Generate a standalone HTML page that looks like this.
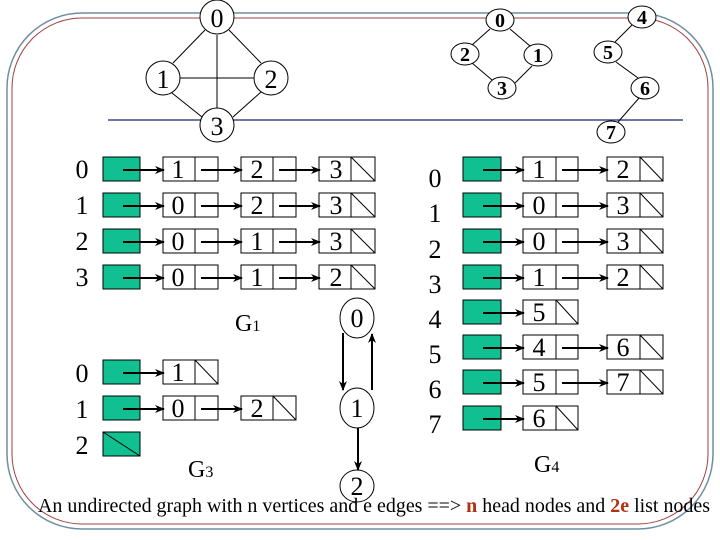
<!DOCTYPE html>
<html><head><meta charset="utf-8"><style>
html,body{margin:0;padding:0;background:#fff}
svg{display:block}
text{font-family:"Liberation Serif",serif}
</style></head><body>
<svg width="720" height="540" viewBox="0 0 720 540" xmlns="http://www.w3.org/2000/svg">
<defs>
<marker id="ah" markerWidth="10" markerHeight="8" refX="9" refY="4" orient="auto" markerUnits="userSpaceOnUse">
<path d="M0,0 L10,4 L0,8 L3,4 Z" fill="#000"/>
</marker>
</defs>
<rect x="7" y="13" width="706" height="516" rx="75" fill="none" stroke="#6f8fa0" stroke-width="1.5"/>
<rect x="12" y="18" width="696" height="506" rx="70" fill="none" stroke="#a04040" stroke-width="1"/>
<line x1="108" y1="120" x2="683" y2="120" stroke="#1a2470" stroke-width="1.2"/>

<!-- G1 graph -->
<g stroke="#000" stroke-width="1" fill="none">
<line x1="217" y1="35" x2="217" y2="108"/>
<line x1="180" y1="78" x2="254" y2="78"/>
<line x1="205" y1="30" x2="173" y2="63"/>
<line x1="229" y1="30" x2="261" y2="63"/>
<line x1="172" y1="93" x2="202" y2="117"/>
<line x1="261" y1="92" x2="233" y2="117"/>
</g>
<g fill="#fff" stroke="#000" stroke-width="1">
<circle cx="217" cy="17" r="17"/><circle cx="163" cy="78" r="17"/><circle cx="271" cy="78" r="17"/><circle cx="217" cy="125" r="17"/>
</g>
<g font-size="26" text-anchor="middle">
<text x="217" y="27">0</text><text x="163" y="88">1</text><text x="271" y="88">2</text><text x="217" y="135">3</text>
</g>

<!-- G2/G4 graph -->
<g stroke="#000" stroke-width="1" fill="none">
<line x1="490" y1="29" x2="472" y2="45"/><line x1="510" y1="29" x2="530" y2="46"/>
<line x1="472" y1="63" x2="492" y2="80"/><line x1="532" y1="66" x2="515" y2="83"/>
<line x1="632" y1="25" x2="615" y2="42"/><line x1="616" y1="62" x2="638" y2="78"/>
<line x1="640" y1="97" x2="618" y2="122"/>
</g>
<g fill="#fff" stroke="#000" stroke-width="1">
<ellipse cx="500" cy="20" rx="14" ry="11"/><ellipse cx="465" cy="54" rx="14" ry="11"/>
<ellipse cx="538" cy="55" rx="14" ry="11"/><ellipse cx="502" cy="88" rx="14" ry="11"/>
<ellipse cx="642" cy="17" rx="14" ry="11"/><ellipse cx="608" cy="52" rx="14" ry="11"/>
<ellipse cx="645" cy="88" rx="14" ry="11"/><ellipse cx="611" cy="132" rx="14" ry="11"/>
</g>
<g font-size="20" font-weight="bold" text-anchor="middle">
<text x="500" y="27">0</text><text x="465" y="61">2</text><text x="538" y="62">1</text><text x="502" y="95">3</text>
<text x="642" y="24">4</text><text x="608" y="59">5</text><text x="645" y="95">6</text><text x="611" y="139">7</text>
</g>

<!-- G1 lists -->
<g font-size="26" text-anchor="middle">
<text x="82" y="178">0</text><text x="82" y="214">1</text><text x="82" y="250">2</text><text x="82" y="286">3</text>
</g>
<g id="g1rows" stroke="#000" stroke-width="1">
<rect x="103" y="157" width="37" height="24" fill="#10c090"/>
<rect x="103" y="193" width="37" height="24" fill="#10c090"/>
<rect x="103" y="229" width="37" height="24" fill="#10c090"/>
<rect x="103" y="265" width="37" height="24" fill="#10c090"/>
</g>
<g stroke="#000" stroke-width="1" fill="#fff">
<rect x="163" y="157" width="55" height="24"/><line x1="195" y1="157" x2="195" y2="181"/>
<rect x="241" y="157" width="55" height="24"/><line x1="273" y1="157" x2="273" y2="181"/>
<rect x="319" y="157" width="56" height="24"/><line x1="351" y1="157" x2="351" y2="181"/><line x1="351" y1="157" x2="375" y2="181"/>
<rect x="163" y="193" width="55" height="24"/><line x1="195" y1="193" x2="195" y2="217"/>
<rect x="241" y="193" width="55" height="24"/><line x1="273" y1="193" x2="273" y2="217"/>
<rect x="319" y="193" width="56" height="24"/><line x1="351" y1="193" x2="351" y2="217"/><line x1="351" y1="193" x2="375" y2="217"/>
<rect x="163" y="229" width="55" height="24"/><line x1="195" y1="229" x2="195" y2="253"/>
<rect x="241" y="229" width="55" height="24"/><line x1="273" y1="229" x2="273" y2="253"/>
<rect x="319" y="229" width="56" height="24"/><line x1="351" y1="229" x2="351" y2="253"/><line x1="351" y1="229" x2="375" y2="253"/>
<rect x="163" y="265" width="55" height="24"/><line x1="195" y1="265" x2="195" y2="289"/>
<rect x="241" y="265" width="55" height="24"/><line x1="273" y1="265" x2="273" y2="289"/>
<rect x="319" y="265" width="56" height="24"/><line x1="351" y1="265" x2="351" y2="289"/><line x1="351" y1="265" x2="375" y2="289"/>
</g>
<g stroke="#000" stroke-width="2" marker-end="url(#ah)">
<line x1="123" y1="170" x2="164" y2="170"/><line x1="201" y1="170" x2="242" y2="170"/><line x1="279" y1="170" x2="320" y2="170"/>
<line x1="123" y1="206" x2="164" y2="206"/><line x1="201" y1="206" x2="242" y2="206"/><line x1="279" y1="206" x2="320" y2="206"/>
<line x1="123" y1="242" x2="164" y2="242"/><line x1="201" y1="242" x2="242" y2="242"/><line x1="279" y1="242" x2="320" y2="242"/>
<line x1="123" y1="278" x2="164" y2="278"/><line x1="201" y1="278" x2="242" y2="278"/><line x1="279" y1="278" x2="320" y2="278"/>
</g>
<g font-size="26" text-anchor="middle">
<text x="178" y="178">1</text><text x="257" y="178">2</text><text x="336" y="178">3</text>
<text x="178" y="214">0</text><text x="257" y="214">2</text><text x="336" y="214">3</text>
<text x="178" y="250">0</text><text x="257" y="250">1</text><text x="336" y="250">3</text>
<text x="178" y="286">0</text><text x="257" y="286">1</text><text x="336" y="286">2</text>
</g>
<text x="235" y="331" font-size="24">G<tspan font-size="16">1</tspan></text>

<!-- G3 lists -->
<g font-size="26" text-anchor="middle">
<text x="82" y="382">0</text><text x="82" y="418">1</text><text x="82" y="454">2</text>
</g>
<g stroke="#000" stroke-width="1">
<rect x="103" y="360" width="37" height="24" fill="#10c090"/>
<rect x="103" y="396" width="37" height="24" fill="#10c090"/>
<rect x="103" y="432" width="37" height="24" fill="#10c090"/><line x1="103" y1="432" x2="140" y2="456"/>
</g>
<g stroke="#000" stroke-width="1" fill="#fff">
<rect x="163" y="360" width="55" height="24"/><line x1="195" y1="360" x2="195" y2="384"/><line x1="195" y1="360" x2="218" y2="384"/>
<rect x="163" y="396" width="55" height="24"/><line x1="195" y1="396" x2="195" y2="420"/>
<rect x="241" y="396" width="55" height="24"/><line x1="273" y1="396" x2="273" y2="420"/><line x1="273" y1="396" x2="296" y2="420"/>
</g>
<g stroke="#000" stroke-width="2" marker-end="url(#ah)">
<line x1="123" y1="373" x2="164" y2="373"/>
<line x1="123" y1="409" x2="164" y2="409"/><line x1="201" y1="409" x2="242" y2="409"/>
</g>
<g font-size="26" text-anchor="middle">
<text x="178" y="381">1</text><text x="178" y="417">0</text><text x="257" y="417">2</text>
</g>
<text x="188" y="477" font-size="24">G<tspan font-size="16">3</tspan></text>

<!-- digraph -->
<g fill="#fff" stroke="#000" stroke-width="1">
<ellipse cx="357" cy="318" rx="17" ry="20"/><ellipse cx="357" cy="408" rx="17" ry="20"/><ellipse cx="357" cy="486" rx="17" ry="16"/>
</g>
<g stroke="#000" stroke-width="2" marker-end="url(#ah)">
<line x1="343" y1="333" x2="343" y2="390"/>
<line x1="372" y1="390" x2="372" y2="334"/>
<line x1="358" y1="428" x2="358" y2="470"/>
</g>
<g font-size="26" text-anchor="middle">
<text x="357" y="327">0</text><text x="357" y="417">1</text><text x="357" y="495">2</text>
</g>

<!-- G4 lists -->
<g font-size="26" text-anchor="middle">
<text x="435" y="187">0</text><text x="435" y="222">1</text><text x="435" y="258">2</text><text x="435" y="293">3</text>
<text x="435" y="328">4</text><text x="435" y="363">5</text><text x="435" y="398">6</text><text x="435" y="433">7</text>
</g>
<g stroke="#000" stroke-width="1" fill="#10c090">
<rect x="463" y="157" width="38" height="24"/><rect x="463" y="193" width="38" height="24"/>
<rect x="463" y="229" width="38" height="24"/><rect x="463" y="265" width="38" height="24"/>
<rect x="463" y="300" width="38" height="24"/><rect x="463" y="335" width="38" height="24"/>
<rect x="463" y="370" width="38" height="24"/><rect x="463" y="406" width="38" height="24"/>
</g>
<g stroke="#000" stroke-width="1" fill="#fff">
<rect x="523" y="157" width="55" height="24"/><line x1="556" y1="157" x2="556" y2="181"/>
<rect x="607" y="157" width="56" height="24"/><line x1="640" y1="157" x2="640" y2="181"/><line x1="640" y1="157" x2="663" y2="181"/>
<rect x="523" y="193" width="55" height="24"/><line x1="556" y1="193" x2="556" y2="217"/>
<rect x="607" y="193" width="56" height="24"/><line x1="640" y1="193" x2="640" y2="217"/><line x1="640" y1="193" x2="663" y2="217"/>
<rect x="523" y="229" width="55" height="24"/><line x1="556" y1="229" x2="556" y2="253"/>
<rect x="607" y="229" width="56" height="24"/><line x1="640" y1="229" x2="640" y2="253"/><line x1="640" y1="229" x2="663" y2="253"/>
<rect x="523" y="265" width="55" height="24"/><line x1="556" y1="265" x2="556" y2="289"/>
<rect x="607" y="265" width="56" height="24"/><line x1="640" y1="265" x2="640" y2="289"/><line x1="640" y1="265" x2="663" y2="289"/>
<rect x="523" y="300" width="55" height="24"/><line x1="556" y1="300" x2="556" y2="324"/><line x1="556" y1="300" x2="578" y2="324"/>
<rect x="523" y="335" width="55" height="24"/><line x1="556" y1="335" x2="556" y2="359"/>
<rect x="607" y="335" width="56" height="24"/><line x1="640" y1="335" x2="640" y2="359"/><line x1="640" y1="335" x2="663" y2="359"/>
<rect x="523" y="370" width="55" height="24"/><line x1="556" y1="370" x2="556" y2="394"/>
<rect x="607" y="370" width="56" height="24"/><line x1="640" y1="370" x2="640" y2="394"/><line x1="640" y1="370" x2="663" y2="394"/>
<rect x="523" y="406" width="55" height="24"/><line x1="556" y1="406" x2="556" y2="430"/><line x1="556" y1="406" x2="578" y2="430"/>
</g>
<g stroke="#000" stroke-width="2" marker-end="url(#ah)">
<line x1="483" y1="170" x2="524" y2="170"/><line x1="562" y1="170" x2="608" y2="170"/>
<line x1="483" y1="206" x2="524" y2="206"/><line x1="562" y1="206" x2="608" y2="206"/>
<line x1="483" y1="242" x2="524" y2="242"/><line x1="562" y1="242" x2="608" y2="242"/>
<line x1="483" y1="278" x2="524" y2="278"/><line x1="562" y1="278" x2="608" y2="278"/>
<line x1="483" y1="313" x2="524" y2="313"/>
<line x1="483" y1="348" x2="524" y2="348"/><line x1="562" y1="348" x2="608" y2="348"/>
<line x1="483" y1="383" x2="524" y2="383"/><line x1="562" y1="383" x2="608" y2="383"/>
<line x1="483" y1="419" x2="524" y2="419"/>
</g>
<g font-size="26" text-anchor="middle">
<text x="539" y="178">1</text><text x="623" y="178">2</text>
<text x="539" y="214">0</text><text x="623" y="214">3</text>
<text x="539" y="250">0</text><text x="623" y="250">3</text>
<text x="539" y="286">1</text><text x="623" y="286">2</text>
<text x="539" y="321">5</text>
<text x="539" y="356">4</text><text x="623" y="356">6</text>
<text x="539" y="391">5</text><text x="623" y="391">7</text>
<text x="539" y="427">6</text>
</g>
<text x="534" y="472" font-size="24">G<tspan font-size="16">4</tspan></text>

<text x="38" y="512" font-size="20" textLength="672" lengthAdjust="spacingAndGlyphs">An undirected graph with n vertices and e edges ==&gt; <tspan fill="#b03010" font-weight="bold">n</tspan> head nodes and <tspan fill="#b03010" font-weight="bold">2e</tspan> list nodes</text>
</svg>
</body></html>
